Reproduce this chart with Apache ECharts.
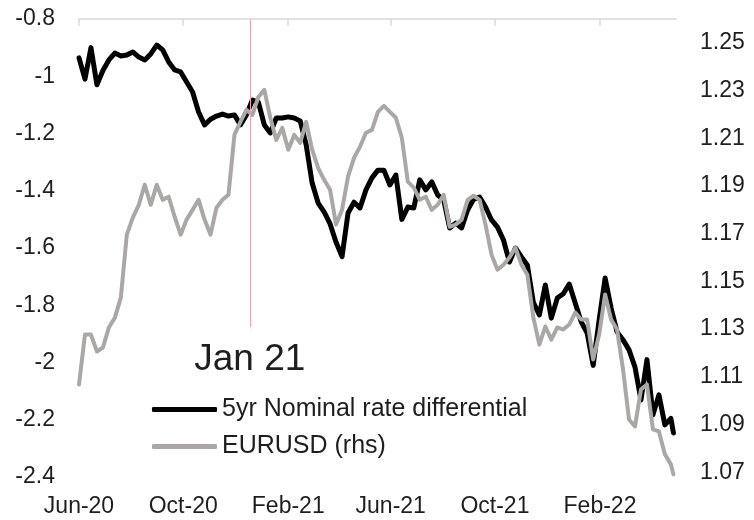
<!DOCTYPE html>
<html>
<head>
<meta charset="utf-8">
<script src="https://cdn.jsdelivr.net/npm/echarts@6/dist/echarts.min.js"></script>
<style>
html,body{margin:0;padding:0;background:#fff;}
#c{width:754px;height:520px;}
</style>
</head>
<body>
<div id="c"></div>
<script>
// Weekly observation dates
var dates = [
'2020-06-01','2020-06-08','2020-06-15','2020-06-22','2020-06-29','2020-07-06','2020-07-13','2020-07-20','2020-07-27','2020-08-03',
'2020-08-10','2020-08-17','2020-08-24','2020-08-31','2020-09-07','2020-09-14','2020-09-21','2020-09-28','2020-10-05','2020-10-12',
'2020-10-19','2020-10-26','2020-11-02','2020-11-09','2020-11-16','2020-11-23','2020-11-30','2020-12-07','2020-12-14','2020-12-21',
'2020-12-28','2021-01-04','2021-01-11','2021-01-18','2021-01-25','2021-02-01','2021-02-08','2021-02-15','2021-02-22','2021-03-01',
'2021-03-08','2021-03-15','2021-03-22','2021-03-29','2021-04-05','2021-04-12','2021-04-19','2021-04-26','2021-05-03','2021-05-10',
'2021-05-17','2021-05-24','2021-05-31','2021-06-07','2021-06-14','2021-06-21','2021-06-28','2021-07-05','2021-07-12','2021-07-19',
'2021-07-26','2021-08-02','2021-08-09','2021-08-16','2021-08-23','2021-08-30','2021-09-06','2021-09-13','2021-09-20','2021-09-27',
'2021-10-04','2021-10-11','2021-10-18','2021-10-25','2021-11-01','2021-11-08','2021-11-15','2021-11-22','2021-11-29','2021-12-06',
'2021-12-13','2021-12-20','2021-12-27','2022-01-03','2022-01-10','2022-01-17','2022-01-24','2022-01-31','2022-02-07','2022-02-14',
'2022-02-21','2022-02-28','2022-03-07','2022-03-14','2022-03-21','2022-03-28','2022-04-04','2022-04-11','2022-04-18','2022-04-25',
'2022-04-28'
];

// 5yr nominal rate differential (lhs)
var rateDiff = [
-0.936,-1.010,-0.900,-1.030,-0.980,-0.943,-0.919,-0.929,-0.926,-0.915,
-0.933,-0.943,-0.922,-0.891,-0.908,-0.950,-0.978,-0.985,-1.020,-1.055,
-1.125,-1.170,-1.150,-1.139,-1.132,-1.139,-1.135,-1.170,-1.135,-1.083,
-1.090,-1.170,-1.198,-1.146,-1.146,-1.142,-1.146,-1.156,-1.240,-1.373,
-1.443,-1.474,-1.516,-1.580,-1.630,-1.478,-1.440,-1.460,-1.397,-1.355,
-1.328,-1.328,-1.380,-1.345,-1.500,-1.457,-1.460,-1.362,-1.397,-1.369,
-1.415,-1.432,-1.530,-1.513,-1.530,-1.467,-1.430,-1.422,-1.457,-1.502,
-1.527,-1.572,-1.649,-1.600,-1.631,-1.660,-1.790,-1.834,-1.729,-1.845,
-1.775,-1.760,-1.726,-1.792,-1.858,-1.897,-2.010,-1.852,-1.705,-1.810,
-1.893,-1.921,-1.956,-2.016,-2.131,-1.990,-2.183,-2.113,-2.218,-2.195,
-2.246
];

// EURUSD (rhs)
var eurusd = [
1.1068,1.1277,1.1277,1.1206,1.1223,1.1307,1.1348,1.1432,1.1696,1.1767,
1.1821,1.1905,1.1821,1.1905,1.1842,1.1855,1.1771,1.1696,1.1759,1.1800,
1.1842,1.1759,1.1696,1.1809,1.1842,1.1863,1.2114,1.2169,1.2219,1.2198,
1.2273,1.2303,1.2186,1.2093,1.2144,1.2052,1.2114,1.2081,1.2169,1.2052,
1.1976,1.1926,1.1884,1.1738,1.1800,1.1939,1.2018,1.2064,1.2123,1.2135,
1.2211,1.2236,1.2211,1.2186,1.2102,1.1918,1.1893,1.1842,1.1855,1.1800,
1.1821,1.1863,1.1729,1.1738,1.1759,1.1842,1.1859,1.1842,1.1738,1.1612,
1.1549,1.1570,1.1600,1.1641,1.1570,1.1528,1.1348,1.1235,1.1311,1.1256,
1.1307,1.1298,1.1319,1.1369,1.1340,1.1340,1.1173,1.1277,1.1445,1.1340,
1.1298,1.1131,1.0921,1.0892,1.1047,1.1068,1.0880,1.0871,1.0775,1.0733,
1.0691
];

var xTickDates = ['2020-06-01','2020-10-01','2021-02-01','2021-06-01','2021-10-01','2022-02-01'];
var monthNames = ['Jan','Feb','Mar','Apr','May','Jun','Jul','Aug','Sep','Oct','Nov','Dec'];
var rightLabels = [1.07,1.09,1.11,1.13,1.15,1.17,1.19,1.21,1.23,1.25];
var xStart = '2020-06-01', xEnd = '2022-05-01';
var markDate = '2020-12-18', markTop = -0.8, markBottom = -1.876, markText = 'Jan 21';

function ts(s){ var p = s.split('-'); return Date.UTC(+p[0], +p[1]-1, +p[2]); }
var tickTs = xTickDates.map(ts);
var FONT = 'Liberation Sans';
var TXT = '#1e1e1e';

var chart = echarts.init(document.getElementById('c'), null, {renderer:'canvas'});
chart.setOption({
  animation:false,
  backgroundColor:'#fff',
  textStyle:{fontFamily:FONT},
  grid:{left:79,right:78,top:19,bottom:43},
  legend:{
    orient:'vertical', left:147, top:392,
    icon:'roundRect',
    itemWidth:65, itemHeight:5, itemGap:12,
    textStyle:{fontFamily:FONT,fontSize:25,color:TXT,lineHeight:25},
    data:['5yr Nominal rate differential','EURUSD (rhs)']
  },
  xAxis:[{
    type:'value', position:'bottom', min:ts(xStart), max:ts(xEnd),
    axisLine:{show:false}, axisTick:{show:false}, splitLine:{show:false},
    axisLabel:{
      customValues:tickTs, margin:18, fontSize:23, color:TXT, fontFamily:FONT,
      formatter:function(v){ var d=new Date(v); return monthNames[d.getUTCMonth()]+'-'+String(d.getUTCFullYear()).slice(2); }
    }
  },{
    type:'value', position:'top', min:ts(xStart), max:ts(xEnd),
    axisLine:{show:true,onZero:false,lineStyle:{color:'#d9d9d9',width:1.5}},
    axisTick:{show:true,inside:true,length:7,customValues:tickTs,lineStyle:{color:'#d9d9d9',width:1.5}},
    axisLabel:{show:false}, splitLine:{show:false}
  }],
  yAxis:[{
    type:'value', min:-2.4, max:-0.8, interval:0.2, position:'left',
    axisLine:{show:false}, axisTick:{show:false}, splitLine:{show:false},
    axisLabel:{margin:24, fontSize:23, color:TXT, fontFamily:FONT}
  },{
    type:'value', min:1.068, max:1.26, position:'right',
    axisLine:{show:false}, axisTick:{show:false}, splitLine:{show:false},
    axisLabel:{margin:24, fontSize:23, color:TXT, fontFamily:FONT, customValues:rightLabels,
      formatter:function(v){ return v.toFixed(2); }}
  }],
  series:[{
    name:'5yr Nominal rate differential', type:'line', xAxisIndex:0, yAxisIndex:0,
    showSymbol:false, symbol:'none',
    lineStyle:{color:'#000',width:5,cap:'round',join:'round'},
    itemStyle:{color:'#000'},
    data:dates.map(function(d,i){return [ts(d),rateDiff[i]];}),
    markLine:{
      silent:true, symbol:['none','none'],
      lineStyle:{color:'#f4a0b6',width:1,type:'solid'},
      label:{show:true,position:'end',formatter:markText,fontSize:37,color:TXT,fontFamily:FONT,distance:14},
      data:[[{coord:[ts(markDate),markTop]},{coord:[ts(markDate),markBottom]}]]
    }
  },{
    name:'EURUSD (rhs)', type:'line', xAxisIndex:0, yAxisIndex:1,
    showSymbol:false, symbol:'none',
    lineStyle:{color:'#aba7a7',width:4,cap:'round',join:'round'},
    itemStyle:{color:'#aba7a7'},
    data:dates.map(function(d,i){return [ts(d),eurusd[i]];})
  }]
});
</script>
</body>
</html>
